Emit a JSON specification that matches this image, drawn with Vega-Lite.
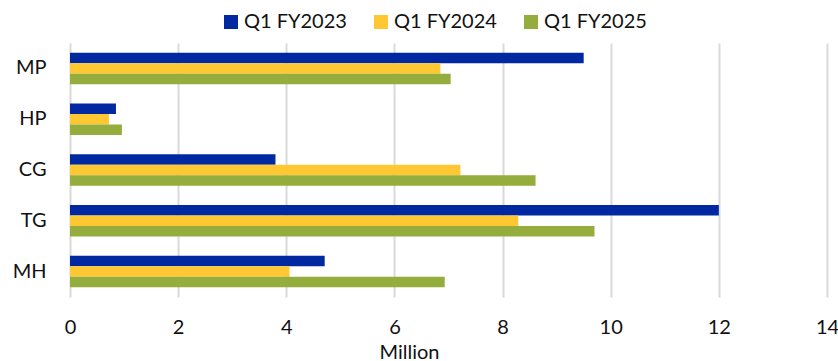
{
  "$schema": "https://vega.github.io/schema/vega-lite/v6.json",
  "width": 757,
  "height": 254,
  "autosize": "none",
  "padding": {"left": 70, "top": 43, "right": 11, "bottom": 64},
  "background": "white",
  "config": {
    "font": "Lato",
    "view": {"stroke": null},
    "axis": {"labelFont": "Lato", "titleFont": "Lato", "labelColor": "#111111", "titleColor": "#111111"}
  },
  "data": {
    "values": [
      {"region": "MP", "period": "Q1 FY2023", "value": 9.5},
      {"region": "MP", "period": "Q1 FY2024", "value": 6.85},
      {"region": "MP", "period": "Q1 FY2025", "value": 7.04},
      {"region": "HP", "period": "Q1 FY2023", "value": 0.85},
      {"region": "HP", "period": "Q1 FY2024", "value": 0.72},
      {"region": "HP", "period": "Q1 FY2025", "value": 0.96},
      {"region": "CG", "period": "Q1 FY2023", "value": 3.8},
      {"region": "CG", "period": "Q1 FY2024", "value": 7.22},
      {"region": "CG", "period": "Q1 FY2025", "value": 8.61},
      {"region": "TG", "period": "Q1 FY2023", "value": 12.0},
      {"region": "TG", "period": "Q1 FY2024", "value": 8.29},
      {"region": "TG", "period": "Q1 FY2025", "value": 9.7},
      {"region": "MH", "period": "Q1 FY2023", "value": 4.71},
      {"region": "MH", "period": "Q1 FY2024", "value": 4.06},
      {"region": "MH", "period": "Q1 FY2025", "value": 6.93}
    ]
  },
  "mark": {"type": "bar"},
  "encoding": {
    "y": {
      "field": "region",
      "type": "nominal",
      "sort": ["MP", "HP", "CG", "TG", "MH"],
      "scale": {"paddingInner": 0.38, "paddingOuter": 0.19},
      "axis": {
        "title": null,
        "ticks": false,
        "domain": false,
        "labelFontSize": 20,
        "labelPadding": 24
      }
    },
    "yOffset": {
      "field": "period",
      "type": "nominal",
      "sort": ["Q1 FY2023", "Q1 FY2024", "Q1 FY2025"],
      "scale": {"paddingInner": 0, "paddingOuter": 0}
    },
    "x": {
      "field": "value",
      "type": "quantitative",
      "scale": {"domain": [0, 14], "nice": false},
      "axis": {
        "title": "Million",
        "values": [0, 2, 4, 6, 8, 10, 12, 14],
        "ticks": false,
        "domain": false,
        "grid": true,
        "gridColor": "#d9d9d9",
        "gridWidth": 2,
        "labelFontSize": 20,
        "labelPadding": 20,
        "labelFlush": false,
        "labelOverlap": false,
        "titleFontSize": 20,
        "titleFontWeight": "normal",
        "titleAlign": "center",
        "titleBaseline": "alphabetic",
        "titleX": 339,
        "titleY": 61
      }
    },
    "color": {
      "field": "period",
      "type": "nominal",
      "sort": ["Q1 FY2023", "Q1 FY2024", "Q1 FY2025"],
      "scale": {
        "domain": ["Q1 FY2023", "Q1 FY2024", "Q1 FY2025"],
        "range": ["#0029A1", "#FFC732", "#94AD3D"]
      },
      "legend": {
        "title": null,
        "orient": "none",
        "direction": "horizontal",
        "legendX": 151,
        "legendY": -31,
        "symbolType": "square",
        "symbolSize": 196,
        "symbolStrokeWidth": 0,
        "symbolOpacity": 1,
        "labelFontSize": 20,
        "labelColor": "#111111",
        "labelOffset": 3,
        "columnPadding": 24
      }
    }
  }
}
